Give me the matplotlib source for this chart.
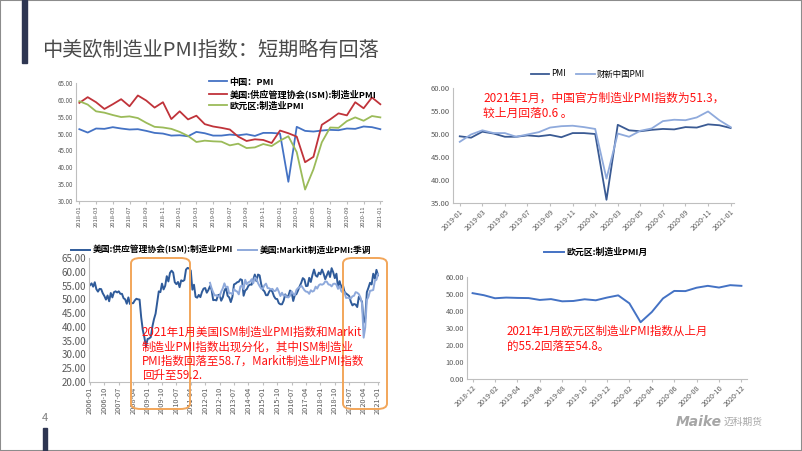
import matplotlib
matplotlib.use("Agg")
import matplotlib.pyplot as plt
from matplotlib.patches import Rectangle, FancyBboxPatch

plt.rcParams["font.family"] = ["Noto Sans CJK SC", "DejaVu Sans"]

W, H = 802, 451

# ---- chart 1: China / US / Eurozone, 2018-01 .. 2021-01
months_1 = [f"{y}-{m:02d}" for y in (2018, 2019, 2020) for m in range(1, 13)] + ["2021-01"]
china_pmi = [51.3, 50.3, 51.5, 51.4, 51.9, 51.5, 51.2, 51.3, 50.8, 50.2, 50.0, 49.4,
             49.5, 49.2, 50.5, 50.1, 49.4, 49.4, 49.7, 49.5, 49.8, 49.3, 50.2, 50.2,
             50.0, 35.7, 52.0, 50.8, 50.6, 50.9, 51.1, 51.0, 51.5, 51.4, 52.1, 51.9,
             51.3]
us_ism = [59.1, 60.8, 59.3, 57.3, 58.7, 60.2, 58.1, 61.3, 59.8, 57.7, 59.3, 54.3,
          56.6, 54.2, 55.3, 52.8, 52.1, 51.7, 51.2, 49.1, 47.8, 48.3, 48.1, 47.2,
          50.9, 50.1, 49.1, 41.5, 43.1, 52.6, 54.2, 56.0, 55.4, 59.3, 57.5, 60.7,
          58.7]
euro_pmi = [59.6, 58.6, 56.6, 56.2, 55.5, 54.9, 55.1, 54.6, 53.2, 52.0, 51.8, 51.4,
            50.5, 49.3, 47.5, 47.9, 47.7, 47.6, 46.5, 47.0, 45.7, 45.9, 46.9, 46.3,
            47.9, 49.2, 44.5, 33.4, 39.4, 47.4, 51.8, 51.7, 53.7, 54.8, 53.8, 55.2,
            54.8]

# ---- chart 2: official vs Caixin, 2019-01 .. 2021-01
months_2 = months_1[12:]
official_pmi = china_pmi[12:]
caixin_pmi = [48.3, 49.9, 50.8, 50.2, 50.2, 49.4, 49.9, 50.4, 51.4, 51.7, 51.8, 51.5,
              51.1, 40.3, 50.1, 49.4, 50.7, 51.2, 52.8, 53.1, 53.0, 53.6, 54.9, 53.0,
              51.5]

# ---- chart 3: US ISM vs Markit, 2006-01 .. 2021-01
months_3 = [f"{y}-{m:02d}" for y in range(2006, 2021) for m in range(1, 13)] + ["2021-01"]
ism_long = [55.1, 55.8, 54.6, 56.2, 53.7, 52.8, 53.8, 53.7, 52.2, 51.2, 49.9, 51.4,
            49.3, 52.3, 50.7, 52.6, 52.9, 52.5, 52.9, 52.0, 52.0, 50.4, 50.0, 48.4,
            50.7, 48.3, 48.6, 48.6, 49.6, 50.2, 50.0, 49.9, 43.5, 38.9, 36.2, 32.9,
            35.6, 35.8, 36.3, 40.1, 42.8, 44.8, 48.9, 52.9, 52.6, 55.7, 53.6, 54.9,
            58.4, 56.5, 59.6, 60.4, 59.7, 56.2, 55.5, 56.3, 54.4, 56.9, 56.6, 57.0,
            60.8, 61.4, 61.2, 60.4, 53.5, 55.3, 50.9, 50.6, 51.6, 50.8, 52.7, 53.9,
            54.1, 52.4, 53.4, 54.8, 53.5, 49.7, 49.8, 49.6, 51.5, 51.7, 49.5, 50.7,
            53.1, 54.2, 51.3, 50.7, 49.0, 50.9, 55.4, 55.7, 56.2, 56.4, 57.3, 57.0,
            51.3, 53.2, 53.7, 54.9, 55.4, 55.3, 57.1, 59.0, 56.6, 59.0, 58.7, 55.5,
            53.5, 52.9, 51.5, 51.5, 52.8, 53.5, 52.7, 51.1, 50.2, 50.1, 48.6, 48.2,
            48.2, 49.5, 51.8, 50.8, 51.3, 53.2, 52.6, 49.4, 51.5, 51.9, 53.2, 54.7,
            56.0, 57.7, 57.2, 54.8, 54.9, 57.8, 56.3, 58.8, 60.8, 58.7, 58.2, 59.7,
            59.1, 60.8, 59.3, 57.3, 58.7, 60.2, 58.1, 61.3, 59.8, 57.7, 59.3, 54.3,
            56.6, 54.2, 55.3, 52.8, 52.1, 51.7, 51.2, 49.1, 47.8, 48.3, 48.1, 47.2,
            50.9, 50.1, 49.1, 41.5, 43.1, 52.6, 54.2, 56.0, 55.4, 59.3, 57.5, 60.7,
            58.7]
markit_start = 75  # 2012-04
markit_us = [56.0, 54.0, 52.5, 51.4, 51.5, 51.1, 51.0, 52.8, 54.0,
             55.8, 54.3, 54.6, 52.1, 52.3, 51.9, 53.7, 53.1, 52.8, 51.8, 54.7, 55.0,
             53.7, 57.1, 55.5, 56.2, 56.4, 57.3, 55.8, 57.9, 57.5, 55.9, 54.8, 53.9,
             53.9, 55.1, 55.7, 54.1, 54.0, 53.6, 53.8, 53.0, 53.1, 54.1, 52.8, 51.2,
             52.4, 51.3, 51.5, 50.8, 50.7, 51.3, 52.9, 52.0, 51.5, 53.4, 54.1, 54.3,
             55.0, 54.2, 53.3, 52.8, 52.7, 52.0, 53.3, 52.8, 53.1, 54.6, 53.9, 55.1,
             55.5, 55.3, 55.6, 56.5, 56.4, 55.4, 55.3, 54.7, 55.6, 55.7, 55.3, 53.8,
             54.9, 53.0, 52.4, 52.6, 50.5, 50.6, 50.4, 50.3, 51.1, 51.3, 52.6, 52.4,
             51.9, 50.7, 48.5, 36.1, 39.8, 49.8, 50.9, 53.1, 53.2, 53.4, 56.7, 57.1,
             59.2]

# ---- chart 4: Eurozone, labels shifted one month as in the source
labels_4 = ["2018-12", "2019-02", "2019-04", "2019-06", "2019-08", "2019-10", "2019-12",
            "2020-02", "2020-04", "2020-06", "2020-08", "2020-10", "2020-12"]
euro_recent = euro_pmi[12:]

TICK_C = "#595959"
SPINE_C = "#BFBFBF"


def add_axes_px(fig, left, top, right, bottom):
    return fig.add_axes([left / W, 1 - bottom / H, (right - left) / W, (bottom - top) / H])


def style_axes(ax, ysize, xsize):
    for s in ("top", "right"):
        ax.spines[s].set_visible(False)
    for s in ("left", "bottom"):
        ax.spines[s].set_color(SPINE_C)
        ax.spines[s].set_linewidth(0.8)
    ax.tick_params(axis="y", length=0, labelsize=ysize, labelcolor=TICK_C, pad=2)
    ax.tick_params(axis="x", length=2.5, color=SPINE_C, labelsize=xsize, labelcolor=TICK_C, pad=1)
    ax.yaxis.set_major_formatter(matplotlib.ticker.FormatStrFormatter("%.2f"))


fig = plt.figure(figsize=(W / 100, H / 100), dpi=100)

# slide decorations
fig.patches.append(Rectangle((0, 0), 1, 1, transform=fig.transFigure, fill=False,
                             edgecolor="#8C8C8C", linewidth=1.5))
fig.patches.append(Rectangle((22 / W, 1 - 63 / H), 5 / W, 63 / H, transform=fig.transFigure,
                             color="#2E3652"))
fig.patches.append(Rectangle((43 / W, 0), 4 / W, 23 / H, transform=fig.transFigure,
                             color="#2E3652"))
fig.text(42 / W, 1 - 50 / H, "中美欧制造业PMI指数：短期略有回落", fontsize=14.5,
         color="#4A4A4A", va="center", ha="left")
fig.text(45 / W, 1 - 418 / H, "4", fontsize=8, color="#7F7F7F", va="center", ha="center")
fig.text(676 / W, 1 - 422 / H, "Maike", fontsize=10, color="#A6A6A6", fontweight="bold",
         style="italic", va="center", family="DejaVu Sans")
fig.text(724 / W, 1 - 422 / H, "迈科期货", fontsize=7, color="#A6A6A6", va="center")

# chart 1
ax1 = add_axes_px(fig, 76, 83, 382, 201)
x1 = list(range(len(months_1)))
ax1.plot(x1, china_pmi, color="#4472C4", lw=1.3, label="中国：PMI")
ax1.plot(x1, us_ism, color="#C0333A", lw=1.3, label="美国:供应管理协会(ISM):制造业PMI")
ax1.plot(x1, euro_pmi, color="#9BBB59", lw=1.3, label="欧元区:制造业PMI")
ax1.set_ylim(30, 65)
ax1.set_yticks(range(30, 66, 5))
ax1.set_xlim(-0.4, 36.2)
ax1.set_xticks(x1[::2])
ax1.set_xticklabels(months_1[::2], rotation=90)
style_axes(ax1, 4.5, 4.2)
ax1.legend(loc="upper left", bbox_to_anchor=(204 / W, 1 - 73 / H), bbox_transform=fig.transFigure,
           frameon=False, prop={"size": 6.6, "weight": "bold"}, handlelength=2.0,
           handletextpad=0.3, labelspacing=0.25, borderpad=0)

# chart 2
ax2 = add_axes_px(fig, 453, 88, 734, 203)
x2 = list(range(len(months_2)))
ax2.plot(x2, official_pmi, color="#3A5A93", lw=1.3, label="PMI")
ax2.plot(x2, caixin_pmi, color="#8FAADC", lw=1.3, label="财新中国PMI")
ax2.set_ylim(35, 60)
ax2.set_yticks(range(35, 61, 5))
ax2.set_xlim(-0.6, 24.3)
ax2.set_xticks(x2[::2])
ax2.set_xticklabels(months_2[::2], rotation=45, ha="right", rotation_mode="anchor")
style_axes(ax2, 5.5, 5.2)
ax2.legend(loc="center", bbox_to_anchor=(588 / W, 1 - 74 / H), bbox_transform=fig.transFigure,
           ncol=2, frameon=False, prop={"size": 6}, handlelength=2.2, handletextpad=0.3,
           columnspacing=1.2, borderpad=0)
fig.text(483 / W, 1 - 106 / H, "2021年1月，中国官方制造业PMI指数为51.3，\n较上月回落0.6 。",
         fontsize=8.5, color="#FF1010", va="center", ha="left", linespacing=1.25)

# chart 3
ax3 = add_axes_px(fig, 89, 258, 379, 382)
x3 = list(range(len(months_3)))
ax3.plot(x3, ism_long, color="#2F5B9A", lw=1.4, label="美国:供应管理协会(ISM):制造业PMI")
x3m = list(range(markit_start, markit_start + len(markit_us)))
ax3.plot(x3m, markit_us, color="#8EA9DB", lw=1.4, label="美国:Markit制造业PMI:季调")
ax3.set_ylim(20, 65)
ax3.set_yticks(range(20, 66, 5))
ax3.set_xlim(-0.6, 180.6)
ax3.set_xticks(x3[::9])
ax3.set_xticklabels(months_3[::9], rotation=90)
style_axes(ax3, 7, 5.3)
ax3.legend(loc="center", bbox_to_anchor=(221 / W, 1 - 250 / H), bbox_transform=fig.transFigure,
           ncol=2, frameon=False, prop={"size": 6.3, "weight": "bold"}, handlelength=2.2,
           handletextpad=0.3, columnspacing=0.6, borderpad=0)
for left, right in ((131, 190), (343, 387)):
    fig.patches.append(FancyBboxPatch((left / W, 1 - 409 / H), (right - left) / W, 151 / H,
                                      boxstyle="round,pad=0,rounding_size=0.012",
                                      transform=fig.transFigure, fill=False,
                                      edgecolor="#F2A65A", linewidth=1.4))
fig.text(142 / W, 1 - 354 / H,
         "2021年1月美国ISM制造业PMI指数和Markit\n制造业PMI指数出现分化，其中ISM制造业\n"
         "PMI指数回落至58.7，Markit制造业PMI指数\n回升至59.2.",
         fontsize=8.3, color="#FF1010", va="center", ha="left", linespacing=1.15)

# chart 4
ax4 = add_axes_px(fig, 467, 277, 747, 379)
x4 = list(range(len(euro_recent)))
ax4.plot(x4, euro_recent, color="#4472C4", lw=1.4, label="欧元区:制造业PMI月")
ax4.set_ylim(0, 60)
ax4.set_yticks(range(0, 61, 10))
ax4.set_xlim(-0.5, 24.5)
ax4.set_xticks(x4[::2])
ax4.set_xticklabels(labels_4, rotation=45, ha="right", rotation_mode="anchor")
style_axes(ax4, 5.3, 5.2)
ax4.legend(loc="center", bbox_to_anchor=(596 / W, 1 - 252 / H), bbox_transform=fig.transFigure,
           frameon=False, prop={"size": 6.4, "weight": "bold"}, handlelength=2.2,
           handletextpad=0.3, borderpad=0)
fig.text(507 / W, 1 - 339 / H, "2021年1月欧元区制造业PMI指数从上月\n的55.2回落至54.8。",
         fontsize=8.3, color="#FF1010", va="center", ha="left", linespacing=1.2)

fig.savefig("out.png", dpi=100)
